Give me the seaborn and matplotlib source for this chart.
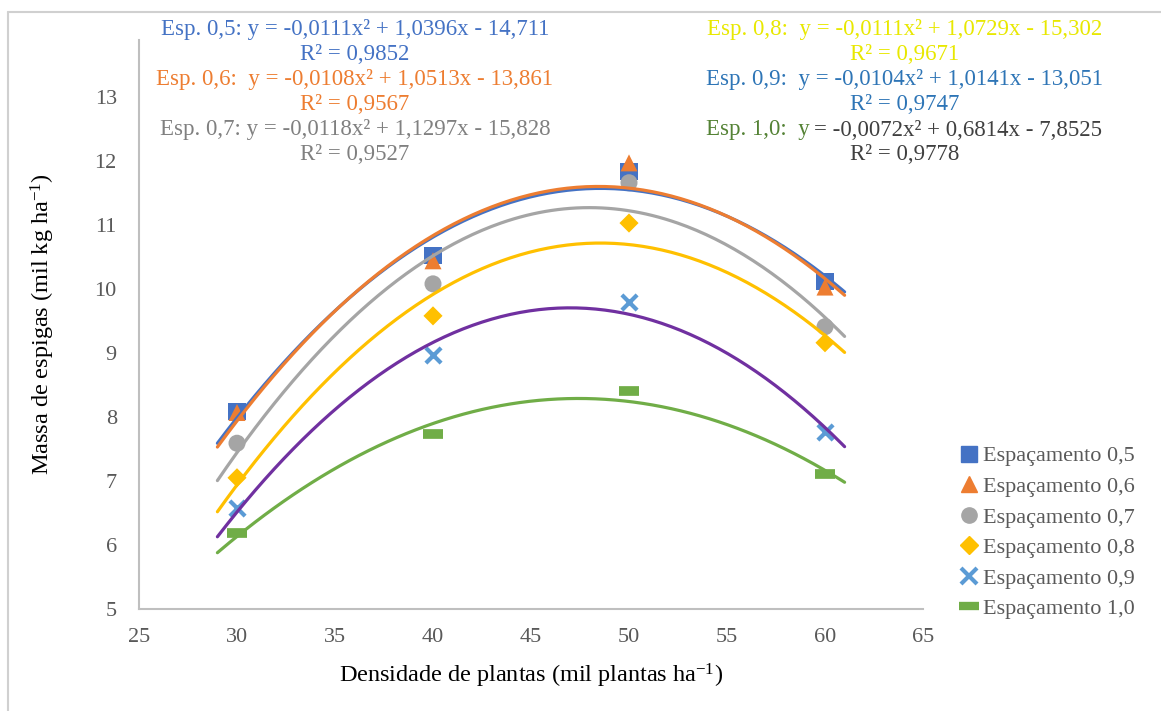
import numpy as np
import pandas as pd
import matplotlib
matplotlib.use("Agg")
import matplotlib.pyplot as plt
from matplotlib.lines import Line2D
import seaborn as sns

densidade = [30, 40, 50, 60]
esp_05 = [8.08, 10.53, 11.83, 10.11]
esp_06 = [8.07, 10.44, 11.97, 10.03]
esp_07 = [7.59, 10.08, 11.66, 9.41]
esp_08 = [7.05, 9.58, 11.03, 9.16]
esp_09 = [6.58, 8.97, 9.80, 7.77]
esp_10 = [6.19, 7.73, 8.41, 7.11]

series_names = ["Espaçamento 0,5", "Espaçamento 0,6", "Espaçamento 0,7",
                "Espaçamento 0,8", "Espaçamento 0,9", "Espaçamento 1,0"]
series_values = [esp_05, esp_06, esp_07, esp_08, esp_09, esp_10]

marker_colors = ["#4472C4", "#ED7D31", "#A5A5A5", "#FFC000", "#5B9BD5", "#70AD47"]
trend_colors = ["#4472C4", "#ED7D31", "#A5A5A5", "#FFC000", "#7030A0", "#70AD47"]
markers = ["s", "^", "o", "D", "x", "_"]
marker_sizes = [150, 150, 150, 95, 120, 200]

eq_left = [
    ("Esp. 0,5: y = -0,0111x² + 1,0396x - 14,711", "R² = 0,9852", "#4472C4"),
    ("Esp. 0,6:  y = -0,0108x² + 1,0513x - 13,861", "R² = 0,9567", "#ED7D31"),
    ("Esp. 0,7: y = -0,0118x² + 1,1297x - 15,828", "R² = 0,9527", "#808080"),
]
eq_right = [
    ("Esp. 0,8:  y = -0,0111x² + 1,0729x - 15,302", "R² = 0,9671", "#E8E800"),
    ("Esp. 0,9:  y = -0,0104x² + 1,0141x - 13,051", "R² = 0,9747", "#2E75B6"),
]

df = pd.DataFrame({
    "densidade": densidade * len(series_names),
    "massa": sum(series_values, []),
    "serie": np.repeat(series_names, len(densidade)),
})

sns.set_style("white")
plt.rcParams["font.family"] = ["Liberation Serif", "DejaVu Serif"]
plt.rcParams["mathtext.fontset"] = "custom"
plt.rcParams["mathtext.rm"] = "Liberation Serif"
plt.rcParams["mathtext.it"] = "Liberation Serif:italic"

fig = plt.figure(figsize=(11.61, 7.11), dpi=100)
W, H = 1161, 711
ax = fig.add_axes([139 / W, 1 - 609 / H, (923 - 139) / W, (609 - 40) / H])

# quadratic trend lines (Excel style, forecast 1 unit each side)
xs = np.linspace(29, 61, 200)
for name, vals, col in zip(series_names, series_values, trend_colors):
    coef = np.polyfit(densidade, vals, 2)
    sns.lineplot(x=xs, y=np.polyval(coef, xs), color=col, linewidth=2.3,
                 ax=ax, zorder=3)

for name, col, mk, ms in zip(series_names, marker_colors, markers, marker_sizes):
    sub = df[df["serie"] == name]
    if mk in ("x", "_"):
        lw = 3 if mk == "x" else 7
        ax.scatter(sub["densidade"], sub["massa"], marker=mk, s=ms, color=col,
                   linewidths=lw, zorder=2)
    else:
        sns.scatterplot(data=sub, x="densidade", y="massa", marker=mk, s=ms,
                        color=col, edgecolor="none", ax=ax, zorder=2, legend=False)

ax.set_xlim(25, 65)
ax.set_ylim(5, 13.89)
ax.set_xticks(range(25, 70, 5))
ax.set_yticks(range(5, 14))
ax.tick_params(axis="both", length=0, labelsize=16, labelcolor="#595959")
ax.tick_params(axis="y", pad=16)
ax.tick_params(axis="x", pad=14)
for side in ["top", "right"]:
    ax.spines[side].set_visible(False)
for side in ["left", "bottom"]:
    ax.spines[side].set_color("#BFBFBF")
    ax.spines[side].set_linewidth(1.5)

ax.set_xlabel(r"Densidade de plantas (mil plantas ha$^{-1}$)", fontsize=17.5,
              color="black", labelpad=10)
ax.set_ylabel(r"Massa de espigas (mil kg ha$^{-1}$)", fontsize=17.5,
              color="black", labelpad=27)

# equations
eq_fs = 16.5
for i, (eq, r2, col) in enumerate(eq_left):
    y0 = 30 + i * 50
    fig.text(355 / W, 1 - y0 / H, eq, color=col, fontsize=eq_fs, ha="center", va="center")
    fig.text(355 / W, 1 - (y0 + 25) / H, r2, color=col, fontsize=eq_fs, ha="center", va="center")
for i, (eq, r2, col) in enumerate(eq_right):
    y0 = 30 + i * 50
    fig.text(905 / W, 1 - y0 / H, eq, color=col, fontsize=eq_fs, ha="center", va="center")
    fig.text(905 / W, 1 - (y0 + 25) / H, r2, color=col, fontsize=eq_fs, ha="center", va="center")
t1 = fig.text(706 / W, 1 - 130 / H, "Esp. 1,0:  y", color="#548235", fontsize=eq_fs,
              ha="left", va="center")
fig.canvas.draw()
bb = t1.get_window_extent()
fig.text((bb.x1 + 4) / W, 1 - 130 / H, "= -0,0072x² + 0,6814x - 7,8525", color="#404040",
         fontsize=eq_fs, ha="left", va="center")
fig.text(905 / W, 1 - 155 / H, "R² = 0,9778", color="#404040", fontsize=eq_fs,
         ha="center", va="center")

# legend
handles = []
for name, col, mk in zip(series_names, marker_colors, markers):
    if mk == "x":
        h = Line2D([], [], marker=mk, color=col, linestyle="none", markersize=11,
                   markeredgewidth=3)
    elif mk == "_":
        h = Line2D([], [], marker=mk, color=col, linestyle="none", markersize=14,
                   markeredgewidth=6)
    else:
        h = Line2D([], [], marker=mk, color=col, markeredgecolor=col, linestyle="none",
                   markersize=11 if mk != "D" else 9)
    handles.append(h)
leg = fig.legend(handles, series_names, loc="upper left",
                 bbox_to_anchor=(947 / W, 1 - 437 / H), frameon=False, fontsize=16,
                 handletextpad=0.0, labelspacing=0.45, handlelength=1.2,
                 borderaxespad=0)
for t in leg.get_texts():
    t.set_color("#595959")

# outer frame (left and top edges)
fig.add_artist(Line2D([8 / W, 8 / W], [0, 1 - 12 / H], color="#D0D0D0", linewidth=1.5))
fig.add_artist(Line2D([8 / W, 1], [1 - 12 / H, 1 - 12 / H], color="#D0D0D0", linewidth=1.5))

fig.savefig("out.png", dpi=100)
